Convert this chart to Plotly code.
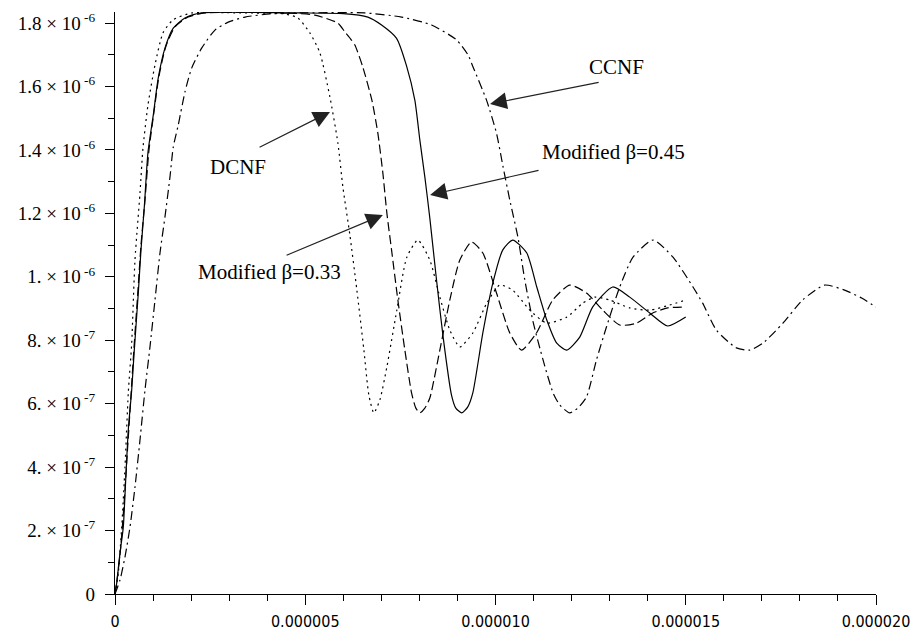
import plotly.graph_objects as go

# x in microseconds, y in units of 1e-6
dcnf_x = [0, 0.087, 0.176, 0.263, 0.349, 0.439, 0.525, 0.657, 0.735, 0.867, 1.051, 1.261, 1.524, 2.023,
          3.283, 4.465, 4.807, 5.122, 5.385, 5.648, 5.858, 5.989, 6.173, 6.357, 6.541, 6.672, 6.803,
          6.961, 7.145, 7.407, 7.670, 7.959, 8.274, 8.537, 8.800, 9.062, 9.404, 9.771, 10.113, 10.454,
          10.901, 11.348, 11.873, 12.293, 12.609, 13.002, 13.528, 14.053, 14.578, 15.0]
dcnf_y = [0, 0.066, 0.211, 0.400, 0.634, 0.791, 1.053, 1.264, 1.406, 1.542, 1.668, 1.769, 1.810, 1.832,
          1.832, 1.829, 1.816, 1.769, 1.706, 1.567, 1.422, 1.283, 1.132, 0.958, 0.769, 0.627, 0.571,
          0.612, 0.716, 0.895, 1.062, 1.116, 1.053, 0.936, 0.832, 0.779, 0.823, 0.917, 0.974, 0.958,
          0.895, 0.854, 0.873, 0.917, 0.936, 0.927, 0.902, 0.895, 0.911, 0.927]

mod033_x = [0, 0.053, 0.144, 0.236, 0.328, 0.420, 0.499, 0.604, 0.683, 0.788, 0.893, 1.024, 1.156, 1.340,
            1.576, 1.918, 2.364, 4.465, 5.253, 5.858, 6.042, 6.173, 6.304, 6.514, 6.751, 6.908, 7.040,
            7.145, 7.268, 7.434, 7.618, 7.794, 7.907, 8.012, 8.143, 8.274, 8.537, 8.800, 9.062, 9.370,
            9.667, 10.026, 10.376, 10.683, 11.077, 11.505, 11.952, 12.391, 12.819, 13.265, 13.704,
            14.132, 14.526, 15.0]
mod033_y = [0, 0.044, 0.139, 0.281, 0.454, 0.627, 0.776, 0.958, 1.100, 1.242, 1.400, 1.520, 1.633, 1.728,
            1.788, 1.819, 1.832, 1.832, 1.825, 1.800, 1.772, 1.753, 1.731, 1.661, 1.557, 1.453, 1.327,
            1.201, 1.085, 0.927, 0.769, 0.634, 0.586, 0.571, 0.586, 0.618, 0.769, 0.927, 1.053, 1.110,
            1.075, 0.949, 0.823, 0.769, 0.823, 0.927, 0.974, 0.949, 0.895, 0.848, 0.854,
            0.886, 0.902, 0.905]

mod045_x = [0, 0.045, 0.131, 0.218, 0.281, 0.349, 0.439, 0.507, 0.612, 0.683, 0.770, 0.867, 1.006, 1.137,
            1.313, 1.531, 1.839, 2.277, 4.859, 6.000, 6.646, 7.006, 7.400, 7.662, 7.880, 8.012, 8.143,
            8.274, 8.450, 8.624, 8.844, 8.957, 9.115, 9.272, 9.404, 9.667, 9.929, 10.192, 10.454,
            10.822, 11.085, 11.348, 11.610, 11.873, 12.214, 12.556, 13.081, 13.528, 14.053, 14.526, 15.0]
mod045_y = [0, 0.035, 0.129, 0.211, 0.359, 0.517, 0.643, 0.769, 0.949, 1.085, 1.220, 1.393, 1.510, 1.627,
            1.721, 1.784, 1.816, 1.832, 1.832, 1.830, 1.819, 1.794, 1.752, 1.665, 1.557, 1.431, 1.315,
            1.185, 0.990, 0.810, 0.627, 0.586, 0.571, 0.590, 0.634, 0.823, 0.980, 1.085, 1.116,
            1.075, 0.968, 0.864, 0.791, 0.769, 0.810, 0.905, 0.968, 0.936, 0.886, 0.845, 0.873]

ccnf_x = [0, 0.131, 0.263, 0.394, 0.525, 0.657, 0.788, 0.919, 1.051, 1.182, 1.313, 1.445, 1.531, 1.663,
          1.839, 2.015, 2.277, 2.627, 2.976, 3.415, 4.071, 4.859, 6.567, 7.531, 8.319, 8.976, 9.281,
          9.412, 9.764, 10.026, 10.200, 10.376, 10.594, 10.770, 10.988, 11.250, 11.513, 11.689, 11.952,
          12.162, 12.391, 12.653, 12.916, 13.265, 13.614, 14.140, 14.665, 15.190, 15.445, 15.805,
          16.330, 16.680, 17.029, 17.554, 18.072, 18.650, 19.175, 19.622, 20.0]
ccnf_y = [0, 0.044, 0.117, 0.211, 0.337, 0.486, 0.643, 0.779, 0.927, 1.075, 1.189, 1.315, 1.409, 1.479,
          1.583, 1.658, 1.721, 1.778, 1.803, 1.819, 1.829, 1.832, 1.832, 1.819, 1.794, 1.747, 1.699,
          1.661, 1.557, 1.453, 1.346, 1.242, 1.122, 0.990, 0.858, 0.738, 0.634, 0.596, 0.571,
          0.586, 0.621, 0.738, 0.842, 0.968, 1.062, 1.116, 1.062, 0.968, 0.917, 0.832,
          0.776, 0.769, 0.791, 0.854, 0.927, 0.974, 0.958, 0.933, 0.905]

y_tickvals = [0, 2e-7, 4e-7, 6e-7, 8e-7, 1e-6, 1.2e-6, 1.4e-6, 1.6e-6, 1.8e-6]
y_ticktext = ["0", "2. × 10<sup> -7</sup>", "4. × 10<sup> -7</sup>", "6. × 10<sup> -7</sup>",
              "8. × 10<sup> -7</sup>", "1. × 10<sup> -6</sup>", "1.2 × 10<sup> -6</sup>",
              "1.4 × 10<sup> -6</sup>", "1.6 × 10<sup> -6</sup>", "1.8 × 10<sup> -6</sup>"]
x_tickvals = [0, 5e-6, 1e-5, 1.5e-5, 2e-5]
x_ticktext = ["0", "0.000005", "0.000010", "0.000015", "0.000020"]

def sc(v, f):
    return [a * f for a in v]

fig = go.Figure()
series = [
    (dcnf_x, dcnf_y, "2px,4px"),
    (mod033_x, mod033_y, "9px,4px"),
    (mod045_x, mod045_y, "solid"),
    (ccnf_x, ccnf_y, "9px,4px,2px,4px"),
]
for xs, ys, dash in series:
    fig.add_trace(go.Scatter(x=sc(xs, 1e-6), y=sc(ys, 1e-6), mode="lines",
                             line=dict(color="black", width=1.2, dash=dash, shape="spline", smoothing=0.6),
                             showlegend=False, hoverinfo="skip"))

# annotations: (tip_x, tip_y, tail_x, tail_y, text, text_x, text_y) in data units (µs, 1e-6)
notes = [
    (5.65, 1.520, 3.76, 1.406, "DCNF", 3.23, 1.346),
    (9.855, 1.545, 12.75, 1.614, "CCNF", 13.17, 1.661),
    (8.28, 1.258, 11.17, 1.337, "Modified β=0.45", 13.09, 1.393),
    (7.04, 1.195, 4.47, 1.066, "Modified β=0.33", 4.07, 1.015),
]
for tx, ty, ax_, ay_, txt, lx, ly in notes:
    fig.add_annotation(x=tx * 1e-6, y=ty * 1e-6, ax=ax_ * 1e-6, ay=ay_ * 1e-6, axref="x", ayref="y",
                       xref="x", yref="y", text="", showarrow=True, arrowhead=2, arrowsize=2.8,
                       arrowwidth=1.2, arrowcolor="#222", standoff=0, startstandoff=0)
    fig.add_annotation(x=lx * 1e-6, y=ly * 1e-6, xref="x", yref="y", text=txt, showarrow=False,
                       font=dict(family="Liberation Serif", size=21, color="black"))

fig.update_layout(
    width=913, height=633,
    margin=dict(l=115, r=37, t=12, b=39),
    paper_bgcolor="white", plot_bgcolor="white",
    showlegend=False,
)
fig.update_xaxes(range=[0, 2e-5], showgrid=False, zeroline=False, showline=True, linecolor="black",
                 linewidth=1.3, ticks="outside", ticklen=10, tickwidth=1.2, tickcolor="black",
                 tickvals=x_tickvals, ticktext=x_ticktext, ticklabelstandoff=3, automargin=False,
                 tickfont=dict(family="Liberation Sans Narrow, DejaVu Sans Condensed, Liberation Sans", size=16, color="black"),
                 minor=dict(dtick=1e-6, tick0=0, ticks="outside", ticklen=6, tickwidth=1.2,
                            tickcolor="black", showgrid=False))
fig.update_yaxes(range=[0, 1.835e-6], showgrid=False, zeroline=False, showline=True, linecolor="black",
                 linewidth=1.3, ticks="outside", ticklen=9, tickwidth=1.2, tickcolor="black",
                 tickvals=y_tickvals, ticktext=y_ticktext, ticklabelstandoff=6, automargin=False,
                 tickfont=dict(family="Liberation Serif", size=19, color="black"),
                 minor=dict(dtick=1e-7, tick0=0, ticks="outside", ticklen=6, tickwidth=1.2,
                            tickcolor="black", showgrid=False))

fig.write_html("out.html")
